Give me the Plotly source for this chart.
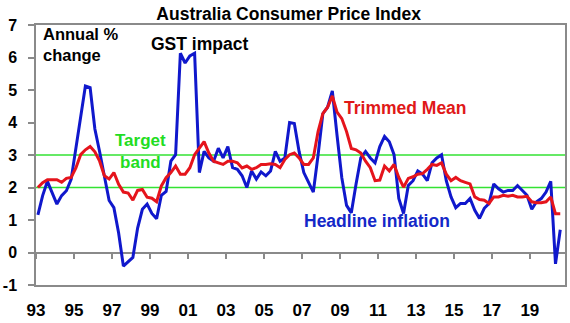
import plotly.graph_objects as go

# ---- data (annual % change, quarterly from Mar-1993 to Sep-2020) ----
headline = [1.16, 1.75, 2.19, 1.85, 1.49, 1.75, 1.90, 2.25, 3.20, 4.20,
            5.12, 5.07, 3.80, 3.10, 2.40, 1.60, 1.38, 0.60, -0.42, -0.30,
            -0.15, 0.75, 1.33, 1.49, 1.20, 1.04, 1.76, 1.88, 2.81, 3.01,
            6.13, 5.83, 6.05, 6.13, 2.46, 3.11, 2.91, 2.81, 3.21, 2.91,
            3.26, 2.61, 2.56, 2.36, 2.00, 2.51, 2.26, 2.48, 2.36, 2.51,
            3.11, 2.81, 2.91, 4.00, 3.97, 3.11, 2.46, 2.16, 1.86, 3.00,
            4.27, 4.47, 4.97, 3.60, 2.30, 1.45, 1.22, 2.11, 2.91, 3.11,
            2.91, 2.76, 3.26, 3.57, 3.41, 3.01, 1.66, 1.20, 2.06, 2.21,
            2.51, 2.41, 2.21, 2.76, 2.91, 3.01, 2.21, 1.71, 1.38, 1.51,
            1.51, 1.66, 1.30, 1.05, 1.36, 1.51, 2.11, 1.96, 1.86, 1.91,
            1.91, 2.06, 1.91, 1.76, 1.33, 1.56, 1.66, 1.86, 2.19, -0.35,
            0.70]

trimmed_mean = [2.00, 2.15, 2.24, 2.24, 2.24, 2.16, 2.28, 2.31, 2.60, 3.01,
                3.16, 3.26, 3.10, 2.81, 2.36, 2.26, 2.46, 2.10, 1.86, 1.83,
                1.61, 1.91, 1.94, 1.70, 1.67, 1.56, 2.05, 2.30, 2.46, 2.66,
                2.41, 2.41, 2.61, 3.01, 3.21, 3.41, 3.06, 2.81, 2.76, 2.71,
                2.81, 2.81, 2.76, 2.60, 2.66, 2.56, 2.61, 2.71, 2.71, 2.73,
                2.71, 2.61, 2.86, 3.01, 3.06, 2.91, 2.71, 2.71, 2.91, 3.72,
                4.27, 4.47, 4.82, 4.32, 4.12, 3.72, 3.20, 3.16, 3.06, 2.81,
                2.61, 2.21, 2.23, 2.66, 2.51, 2.71, 2.31, 2.01, 2.28, 2.33,
                2.41, 2.43, 2.56, 2.71, 2.68, 2.76, 2.41, 2.21, 2.31, 2.21,
                2.16, 2.11, 1.71, 1.63, 1.61, 1.51, 1.71, 1.71, 1.76, 1.73,
                1.76, 1.71, 1.71, 1.73, 1.56, 1.53, 1.53, 1.56, 1.71, 1.19,
                1.19]

start_year = 1993
x_tick_labels = ["93", "95", "97", "99", "01", "03", "05", "07", "09",
                 "11", "13", "15", "17", "19"]
y_ticks = [-1, 0, 1, 2, 3, 4, 5, 6, 7]
target_band = [2, 3]

quarter_pos = [start_year + 0.25 * i for i in range(len(headline))]
tick_pos = [start_year - 0.1 + 2 * k for k in range(len(x_tick_labels))]

# ---- styling ----
BLUE = "#1018cc"
RED = "#e5141c"
GREEN = "#33e233"
GRAY = "#8a8a8a"
FONT = "Arial, Liberation Sans, sans-serif"

W, H = 570, 323
ML, MR, MT, MB = 33, 3, 25, 34
PW, PH = W - ML - MR, H - MT - MB


def px_x(p):
    return (p - ML) / PW


def px_y(p):
    return (H - MB - p) / PH


fig = go.Figure()
fig.add_trace(go.Scatter(x=quarter_pos, y=headline, mode="lines",
                         line=dict(color=BLUE, width=3),
                         xaxis="x", yaxis="y", showlegend=False,
                         name="Headline inflation"))
fig.add_trace(go.Scatter(x=quarter_pos, y=trimmed_mean, mode="lines",
                         line=dict(color=RED, width=3),
                         xaxis="x2", yaxis="y", showlegend=False,
                         name="Trimmed Mean"))

for v in target_band:
    fig.add_shape(type="line", xref="paper", x0=0, x1=1, yref="y", y0=v, y1=v,
                  line=dict(color=GREEN, width=1.6), layer="below")

x_range = [start_year - 0.1, 2020.75]

fig.update_layout(
    width=W, height=H,
    margin=dict(l=ML, r=MR, t=MT, b=MB),
    paper_bgcolor="white", plot_bgcolor="white",
    font=dict(family=FONT, color="black"),
    title=dict(text="<b>Australia Consumer Price Index</b>",
               font=dict(size=17.5, family=FONT, color="black"),
               xref="paper", x=px_x(288), xanchor="center",
               yref="container", y=1 - 14 / H, yanchor="middle"),
    xaxis=dict(range=x_range, tickvals=tick_pos,
               ticktext=["<b>%s</b>" % t for t in x_tick_labels],
               ticks="", showgrid=False, zeroline=False,
               showline=True, mirror=True, linecolor=GRAY, linewidth=1.5,
               tickfont=dict(size=17, family=FONT, color="black"),
               ticklabelstandoff=9),
    xaxis2=dict(range=x_range, matches="x", overlaying="x", anchor="free",
                position=1 / 8, tickvals=tick_pos, showticklabels=False,
                ticks="outside", ticklen=5, tickwidth=1.5, tickcolor=GRAY,
                showline=False, showgrid=False, zeroline=False),
    yaxis=dict(range=[-1, 7], tickvals=y_ticks,
               ticktext=["<b>%d</b>" % t for t in y_ticks],
               ticks="outside", ticklen=6, tickwidth=1.5, tickcolor=GRAY,
               showgrid=False, zeroline=True, zerolinecolor=GRAY,
               zerolinewidth=1.5,
               showline=True, mirror=True, linecolor=GRAY, linewidth=1.5,
               tickfont=dict(size=16, family=FONT, color="black"),
               ticklabelstandoff=8),
)

notes = [
    ("<b>Annual %<br>change</b>", 38, 44.5, "left", "black", 16.5),
    ("<b>GST impact</b>", 198.5, 44.5, "center", "black", 17.5),
    ("<b>Target<br>band</b>", 138.5, 153.5, "center", "#22dd22", 17),
    ("<b>Trimmed Mean</b>", 406, 109, "center", "#e01818", 17.5),
    ("<b>Headline inflation</b>", 377, 224, "center", "#1428c8", 17.5),
]
for text, xp, yp, anchor, color, size in notes:
    fig.add_annotation(text=text, xref="paper", yref="paper",
                       x=px_x(xp), y=px_y(yp), xanchor=anchor, align=anchor,
                       yanchor="middle", showarrow=False,
                       font=dict(size=size, family=FONT, color=color))

fig.write_html("out.html")
